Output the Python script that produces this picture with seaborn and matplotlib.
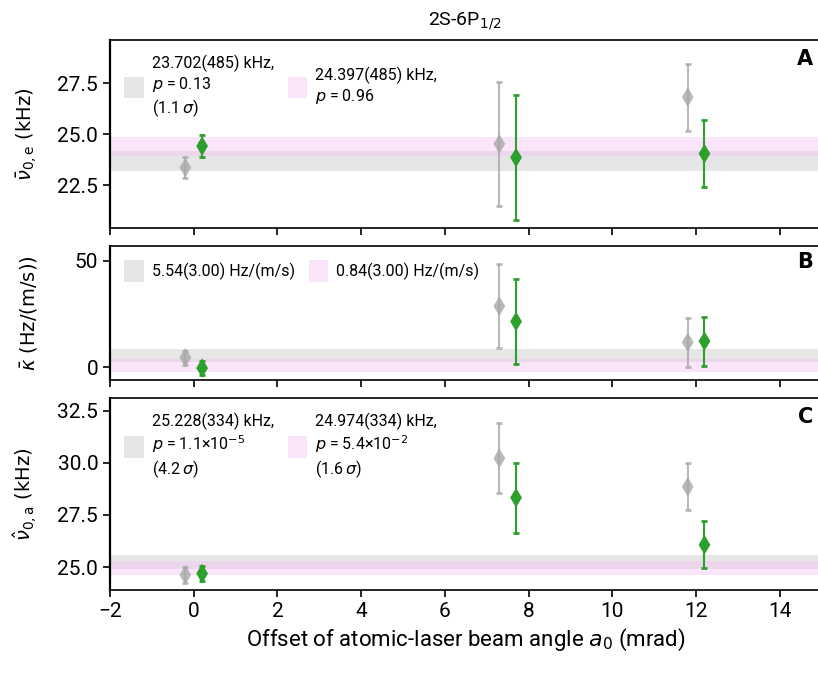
import matplotlib
matplotlib.use("Agg")
import matplotlib.pyplot as plt
import matplotlib.patches as mpatches
import seaborn as sns
import pandas as pd

sns.set_style("ticks")
plt.rcParams['font.family'] = ['Roboto', 'DejaVu Sans']
plt.rcParams['mathtext.fontset'] = 'dejavusans'
for k in ['text.color', 'axes.labelcolor', 'xtick.color', 'ytick.color', 'axes.edgecolor']:
    plt.rcParams[k] = 'black'

# x positions (mrad), gray = first series, green = second series
x_gray = [-0.2, 7.3, 11.8]
x_green = [0.2, 7.7, 12.2]

# panel A: nu_0,e (kHz)
a_gray = [23.37, 24.53, 26.82]
a_gray_err = [0.53, 3.05, 1.64]
a_green = [24.42, 23.86, 24.05]
a_green_err = [0.53, 3.04, 1.65]
a_bands = [(23.702, 0.485), (24.397, 0.485)]
a_labels = ["23.702(485) kHz,\n$p$ = 0.13\n(1.1$\\,\\sigma$)",
            "24.397(485) kHz,\n$p$ = 0.96"]

# panel B: kappa (Hz/(m/s))
b_gray = [4.6, 28.7, 11.8]
b_gray_err = [3.3, 19.8, 11.4]
b_green = [-0.3, 21.5, 12.3]
b_green_err = [3.25, 19.9, 11.5]
b_bands = [(5.54, 3.00), (0.84, 3.00)]
b_labels = ["5.54(3.00) Hz/(m/s)", "0.84(3.00) Hz/(m/s)"]

# panel C: nu_0,a (kHz)
c_gray = [24.62, 30.22, 28.85]
c_gray_err = [0.37, 1.67, 1.12]
c_green = [24.69, 28.33, 26.07]
c_green_err = [0.38, 1.68, 1.12]
c_bands = [(25.228, 0.334), (24.974, 0.334)]
c_labels = ["25.228(334) kHz,\n$p$ = 1.1\u00d710$^{-5}$\n(4.2$\\,\\sigma$)",
            "24.974(334) kHz,\n$p$ = 5.4\u00d710$^{-2}$\n(1.6$\\,\\sigma$)"]

band_colors = ["#b4b4b4", "#f7bdf7"]
band_alpha = [0.33, 0.38]

fig = plt.figure(figsize=(8.18, 6.73), dpi=100)
axA = fig.add_axes([0.1345, 0.661, 0.87, 0.279])
axB = fig.add_axes([0.1345, 0.435, 0.87, 0.200], sharex=axA)
axC = fig.add_axes([0.1345, 0.1233, 0.87, 0.285], sharex=axA)

panels = [
    (axA, a_gray, a_gray_err, a_green, a_green_err, a_bands, a_labels, "A",
     r"$\bar{\nu}_{0,\mathrm{e}}$ (kHz)", (20.4, 29.6), [22.5, 25.0, 27.5]),
    (axB, b_gray, b_gray_err, b_green, b_green_err, b_bands, b_labels, "B",
     r"$\bar{\kappa}$ (Hz/(m/s))", (-6, 57), [0, 50]),
    (axC, c_gray, c_gray_err, c_green, c_green_err, c_bands, c_labels, "C",
     r"$\hat{\nu}_{0,\mathrm{a}}$ (kHz)", (23.9, 33.1), [25.0, 27.5, 30.0, 32.5]),
]

for ax, yg, eg, yn, en, bands, labels, tag, ylab, ylim, yt in panels:
    handles = []
    for (c, s), col, al, lab in zip(bands, band_colors, band_alpha, labels):
        ax.axhspan(c - s, c + s, color=col, alpha=al, lw=0, zorder=1)
        handles.append(mpatches.Patch(color=col, alpha=al, lw=0, label=lab))

    df_g = pd.DataFrame({"x": x_gray, "y": yg})
    df_n = pd.DataFrame({"x": x_green, "y": yn})
    ax.errorbar(x_gray, yg, yerr=eg, fmt="none", ecolor="#a8a8a8", alpha=0.8,
                elinewidth=1.5, capsize=2.5, capthick=2, zorder=3)
    ax.errorbar(x_green, yn, yerr=en, fmt="none", ecolor="#2ca02c",
                elinewidth=1.5, capsize=2.5, capthick=2, zorder=3)
    sns.scatterplot(data=df_g, x="x", y="y", ax=ax, marker="d", s=100,
                    color="#a8a8a8", alpha=0.8, edgecolor="none", zorder=4)
    sns.scatterplot(data=df_n, x="x", y="y", ax=ax, marker="d", s=100,
                    color="#2ca02c", edgecolor="none", zorder=4)

    ax.legend(handles=handles, ncol=2, loc="upper left", frameon=False,
              fontsize=11.5, handlelength=1.2, handleheight=1.7,
              columnspacing=0.9, handletextpad=0.5, borderaxespad=0.5,
              labelspacing=0.6, bbox_to_anchor=(0.0, 1.0))
    ax.text(0.988, 0.955, tag, transform=ax.transAxes, ha="right", va="top",
            fontsize=15, fontweight="bold", family="DejaVu Sans")

    ax.set_ylim(*ylim)
    ax.set_yticks(yt)
    ax.set_ylabel(ylab, fontsize=14, family="DejaVu Sans")
    ax.set_xlabel("")
    ax.spines["right"].set_visible(False)
    ax.spines["left"].set_linewidth(1.6)
    ax.spines["top"].set_linewidth(1.2)
    ax.spines["bottom"].set_linewidth(1.2)
    ax.tick_params(axis="both", direction="out", length=5, width=1.2,
                   labelsize=15)

axA.set_xlim(-2, 15)
axA.set_xticks([-2, 0, 2, 4, 6, 8, 10, 12, 14])
axA.tick_params(axis="x", labelbottom=False)
axB.tick_params(axis="x", labelbottom=False)
axC.set_xticklabels(["\u22122", "0", "2", "4", "6", "8", "10", "12", "14"])
axC.set_xlabel("Offset of atomic-laser beam angle $a_0$ (mrad)", fontsize=16)

for ax in (axA, axB, axC):
    ax.yaxis.set_label_coords(-0.1, 0.5)

fig.text(0.5682, 0.985, "2S-6P$_{1/2}$", ha="center", va="top", fontsize=14)

fig.savefig("out.png", dpi=100)
